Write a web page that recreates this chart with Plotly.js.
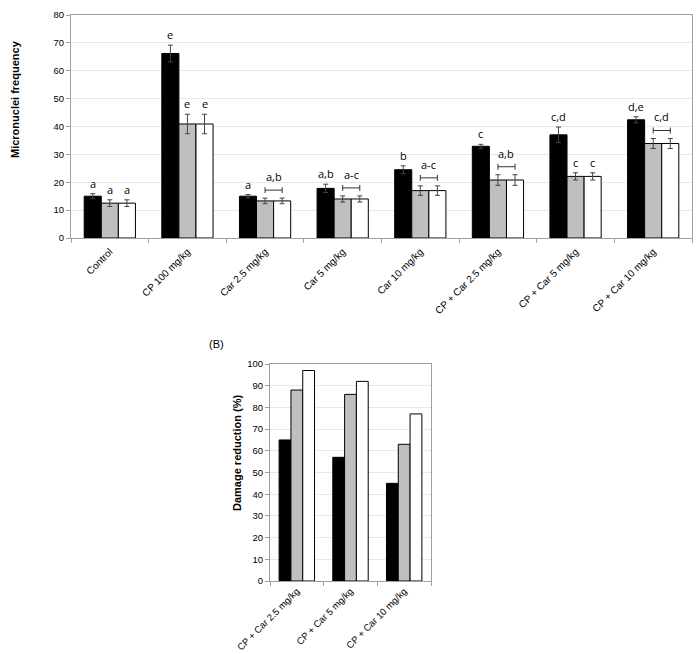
<!DOCTYPE html>
<html>
<head>
<meta charset="utf-8">
<script src="https://cdn.plot.ly/plotly-3.0.1.min.js"></script>
<style>html,body{margin:0;padding:0;background:#fff;}#chart{width:699px;height:654px;}</style>
</head>
<body>
<div id="chart"></div>
<script>
// ---- Panel A data ----
const categoriesA = ['Control', 'CP 100 mg/kg', 'Car 2.5 mg/kg', 'Car 5 mg/kg', 'Car 10 mg/kg',
  'CP + Car 2.5 mg/kg', 'CP + Car 5 mg/kg', 'CP + Car 10 mg/kg'];
const blackValues = [15.0, 66.2, 15.0, 17.8, 24.5, 32.9, 37.0, 42.4];
const blackErrors = [0.9, 3.0, 0.6, 1.5, 1.4, 0.7, 2.8, 1.1];
const grayValues  = [12.5, 40.9, 13.3, 14.0, 17.0, 20.8, 22.1, 33.9];
const grayErrors  = [1.2, 3.5, 1.0, 1.1, 1.7, 1.9, 1.3, 1.8];
const whiteValues = [12.5, 40.9, 13.3, 14.0, 17.0, 20.8, 22.1, 33.9];
const whiteErrors = [1.2, 3.5, 1.0, 1.1, 1.7, 1.9, 1.3, 1.8];
const blackLetters = ['a', 'e', 'a', 'a,b', 'b', 'c', 'c,d', 'd,e'];
const grayLetters  = ['a', 'e', '', '', '', '', 'c', ''];
const whiteLetters = ['a', 'e', '', '', '', '', 'c', ''];
const bracketLetters = ['', '', 'a,b', 'a-c', 'a-c', 'a,b', '', 'c,d'];
const yTicksA = [0, 10, 20, 30, 40, 50, 60, 70, 80];

// ---- Panel B data ----
const categoriesB = ['CP + Car 2.5 mg/kg', 'CP + Car 5 mg/kg', 'CP + Car 10 mg/kg'];
const blackB = [65, 57, 45];
const grayB  = [88, 86, 63];
const whiteB = [97, 92, 77];
const yTicksB = [0, 10, 20, 30, 40, 50, 60, 70, 80, 90, 100];

const W = 699, H = 654;
const FONT = 'Liberation Sans, Arial, sans-serif';
const LETTERFONT = 'Open Sans, sans-serif';
const GAP_A = 0.34, GAP_B = 0.33;
const bwA = (1 - GAP_A) / 3;

const lineStyle = {color: '#000', width: 1};
const errStyle = {type: 'data', visible: true, color: '#444', thickness: 1, width: 2.5};

function barTrace(x, y, color, err, xa, ya) {
  const t = {type: 'bar', x: x, y: y, marker: {color: color, line: lineStyle},
    xaxis: xa, yaxis: ya, showlegend: false, hoverinfo: 'skip'};
  if (err) t.error_y = Object.assign({array: err}, errStyle);
  return t;
}

const data = [
  barTrace(categoriesA, blackValues, '#000000', blackErrors, 'x', 'y'),
  barTrace(categoriesA, grayValues, '#bfbfbf', grayErrors, 'x', 'y'),
  barTrace(categoriesA, whiteValues, '#ffffff', whiteErrors, 'x', 'y'),
  barTrace(categoriesB, blackB, '#000000', null, 'x2', 'y2'),
  barTrace(categoriesB, grayB, '#bfbfbf', null, 'x2', 'y2'),
  barTrace(categoriesB, whiteB, '#ffffff', null, 'x2', 'y2')
];

const annotations = [];
const shapes = [];
const offsets = [-bwA, 0, bwA];
const vals = [blackValues, grayValues, whiteValues];
const errs = [blackErrors, grayErrors, whiteErrors];
const letters = [blackLetters, grayLetters, whiteLetters];
categoriesA.forEach((c, i) => {
  for (let s = 0; s < 3; s++) {
    const txt = letters[s][i];
    if (!txt) continue;
    annotations.push({xref: 'x', yref: 'y', x: i + offsets[s], y: vals[s][i] + errs[s][i],
      text: txt, showarrow: false, xanchor: 'center', yanchor: 'bottom', yshift: 1,
      font: {family: LETTERFONT, size: 11, color: '#000'}});
  }
  const b = bracketLetters[i];
  if (b) {
    const top = Math.max(grayValues[i] + grayErrors[i], whiteValues[i] + whiteErrors[i]);
    const common = {type: 'line', xref: 'x', yref: 'y', ysizemode: 'pixel', yanchor: top,
      line: {color: '#333', width: 1}};
    shapes.push(Object.assign({x0: i, x1: i + bwA, y0: 8, y1: 8}, common));
    shapes.push(Object.assign({x0: i, x1: i, y0: 5, y1: 11}, common));
    shapes.push(Object.assign({x0: i + bwA, x1: i + bwA, y0: 5, y1: 11}, common));
    annotations.push({xref: 'x', yref: 'y', x: i + bwA / 2, y: top, text: b, showarrow: false,
      xanchor: 'center', yanchor: 'bottom', yshift: 12,
      font: {family: LETTERFONT, size: 11, color: '#000'}});
  }
});

annotations.push({xref: 'paper', yref: 'paper', x: 15 / W, y: 1 - 99 / H, text: '<b>Micronuclei frequency</b>',
  textangle: -90, showarrow: false, xanchor: 'center', yanchor: 'middle',
  font: {family: FONT, size: 11, color: '#000'}});
annotations.push({xref: 'paper', yref: 'paper', x: 237 / W, y: 1 - 453 / H, text: '<b>Damage reduction (%)</b>',
  textangle: -90, showarrow: false, xanchor: 'center', yanchor: 'middle',
  font: {family: FONT, size: 11, color: '#000'}});
annotations.push({xref: 'paper', yref: 'paper', x: 216 / W, y: 1 - 344 / H, text: '(B)',
  showarrow: false, xanchor: 'center', yanchor: 'middle',
  font: {family: FONT, size: 11, color: '#000'}});

function xAxis(domain, anchor, standoff, size) {
  return {domain: domain, anchor: anchor, type: 'category', showgrid: false, showline: true,
    linecolor: '#a0a0a0', linewidth: 1, mirror: true, ticks: 'outside', tickson: 'boundaries',
    ticklen: 4, tickcolor: '#a0a0a0', tickangle: -45, ticklabelstandoff: standoff,
    tickfont: {family: FONT, size: size, color: '#000'}, fixedrange: true, zeroline: false};
}
function yAxis(domain, anchor, range, ticks) {
  return {domain: domain, anchor: anchor, range: range, tickvals: ticks, ticktext: ticks.map(String),
    showgrid: true, gridcolor: '#e8e8e8', gridwidth: 1, showline: true, linecolor: '#a0a0a0',
    linewidth: 1, mirror: true, ticks: 'outside', ticklen: 4, tickcolor: '#a0a0a0',
    tickfont: {family: FONT, size: 9.5, color: '#000'}, zeroline: false, fixedrange: true};
}

const layout = {
  width: W, height: H, margin: {l: 0, r: 0, t: 0, b: 0},
  paper_bgcolor: '#fff', plot_bgcolor: '#fff',
  barmode: 'group', bargap: GAP_A, bargroupgap: 0,
  xaxis: xAxis([71 / W, 692 / W], 'y', 3, 10),
  yaxis: yAxis([1 - 238 / H, 1 - 15 / H], 'x', [0, 80], yTicksA),
  xaxis2: xAxis([270 / W, 431 / W], 'y2', 0, 9.5),
  yaxis2: yAxis([1 - 581 / H, 1 - 364 / H], 'x2', [0, 100], yTicksB),
  annotations: annotations,
  shapes: shapes,
  showlegend: false
};

Plotly.newPlot('chart', data, layout, {staticPlot: true, displayModeBar: false});
</script>
</body>
</html>
